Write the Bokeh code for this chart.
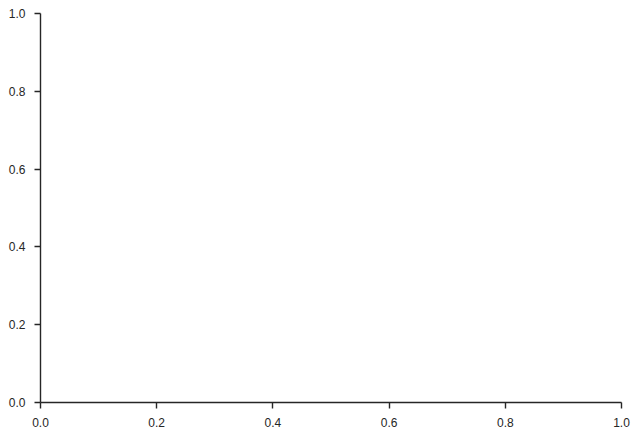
from bokeh.plotting import figure
from bokeh.models import Range1d, FixedTicker, PrintfTickFormatter
from bokeh.embed import file_html
from bokeh.resources import INLINE

# Axis ticks (empty axes from 0 to 1 on both axes)
x_ticks = [0.0, 0.2, 0.4, 0.6, 0.8, 1.0]
y_ticks = [0.0, 0.2, 0.4, 0.6, 0.8, 1.0]
x_limits = [0.0, 1.0]
y_limits = [0.0, 1.0]

INK = "#262626"

p = figure(
    frame_width=581, frame_height=389,
    x_range=Range1d(*x_limits), y_range=Range1d(*y_limits),
    output_backend="svg", toolbar_location=None,
    min_border_left=40, min_border_right=12, min_border_top=13, min_border_bottom=30,
)
p.outline_line_color = None
p.xgrid.visible = False
p.ygrid.visible = False
p.background_fill_color = "white"
p.border_fill_color = "white"

for ax, ticks in ((p.xaxis[0], x_ticks), (p.yaxis[0], y_ticks)):
    ax.ticker = FixedTicker(ticks=ticks)
    ax.formatter = PrintfTickFormatter(format="%.1f")
    ax.minor_tick_line_color = None
    ax.major_tick_in = 0
    ax.major_tick_out = 6
    ax.major_tick_line_color = INK
    ax.major_tick_line_width = 1.4
    ax.axis_line_color = INK
    ax.axis_line_width = 1.4
    ax.major_label_text_color = INK
    ax.major_label_text_font = "Liberation Sans"
    ax.major_label_text_font_size = "12px"
    ax.major_label_standoff = 9

out = file_html(p, INLINE)
open("out.html", "w").write(out)
